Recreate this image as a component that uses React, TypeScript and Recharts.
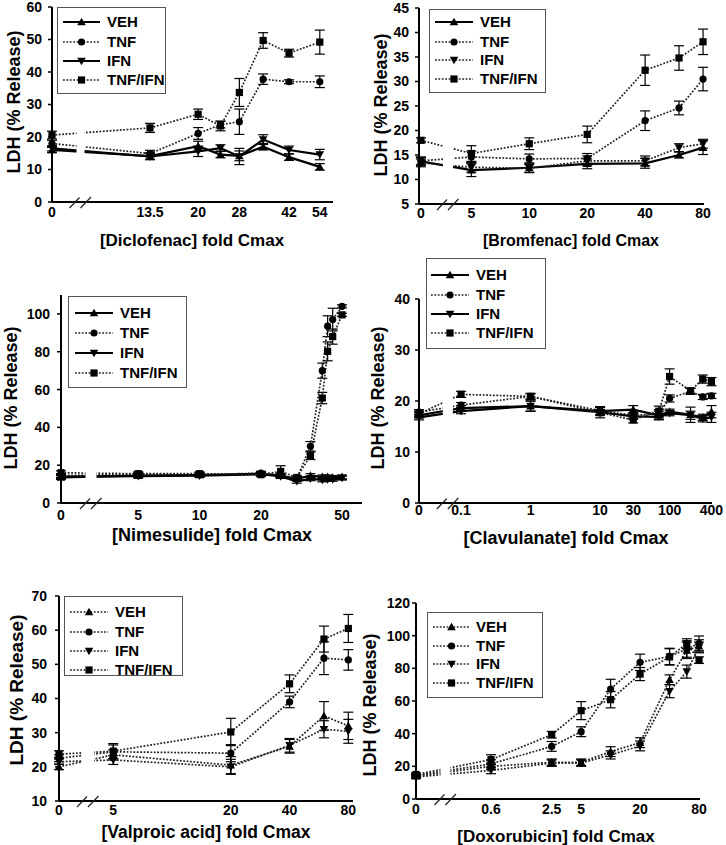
import React from 'react';
import { LineChart, Line, XAxis, YAxis, ErrorBar, Legend, Label } from 'recharts';

const FONT = '"Liberation Sans", Arial, Helvetica, sans-serif';

const SERIES_NAMES = ['VEH', 'TNF', 'IFN', 'TNF/IFN'];
const SERIES_KEYS = ['veh', 'tnf', 'ifn', 'ti'];
const SERIES_MARKERS = ['up', 'circle', 'down', 'square'];

// ---------- Diclofenac ----------
const dicloDoses = [0, 13.5, 20, 24, 28, 34, 42, 54];
const dicloTicks = [0, 13.5, 20, 28, 42, 54];
const dicloYTicks = [0, 10, 20, 30, 40, 50, 60];
const dicloVeh = [16.0, 14.1, 17.2, 14.6, 14.2, 17.0, 13.8, 10.8];
const dicloVehErr = [0.8, 1.0, 1.5, 1.0, 1.5, 1.0, 1.0, 1.0];
const dicloTnf = [18.0, 14.9, 21.1, 23.8, 24.7, 37.8, 37.0, 37.0];
const dicloTnfErr = [1.0, 1.0, 1.8, 1.0, 3.9, 1.6, 0.6, 1.8];
const dicloIfn = [16.5, 14.0, 15.6, 16.6, 14.0, 19.2, 16.0, 14.6];
const dicloIfnErr = [0.8, 1.0, 1.6, 1.0, 2.5, 1.5, 1.2, 1.6];
const dicloTi = [20.6, 22.8, 27.0, 23.4, 33.7, 49.7, 45.8, 49.2];
const dicloTiErr = [1.2, 1.4, 1.6, 1.5, 4.3, 2.4, 1.2, 3.7];

// ---------- Bromfenac ----------
const bromDoses = [0, 5, 10, 20, 40, 60, 80];
const bromTicks = [0, 5, 10, 20, 40, 80];
const bromYTicks = [5, 10, 15, 20, 25, 30, 35, 40, 45];
const bromVeh = [13.7, 11.9, 12.4, 13.2, 13.3, 15.0, 16.5];
const bromVehErr = [0.8, 1.3, 1.0, 1.0, 1.0, 0.6, 1.4];
const bromTnf = [13.8, 14.6, 14.2, 14.3, 22.0, 24.6, 30.5];
const bromTnfErr = [0.8, 1.2, 1.0, 1.0, 2.0, 1.4, 2.4];
const bromIfn = [13.4, 12.5, 12.3, 13.8, 13.8, 16.5, 17.3];
const bromIfnErr = [0.8, 1.0, 0.8, 1.0, 1.0, 0.8, 0.9];
const bromTi = [18.0, 15.3, 17.3, 19.2, 32.3, 34.8, 38.1];
const bromTiErr = [0.5, 1.6, 1.2, 1.7, 3.1, 2.5, 2.6];

// ---------- Nimesulide ----------
const nimeDoses = [0, 5, 10, 20, 25, 30, 35, 40, 42.5, 45, 50];
const nimeTicks = [0, 5, 10, 20, 50];
const nimeYTicks = [0, 20, 40, 60, 80, 100];
const nimeVeh = [13.5, 14.5, 14.8, 15.5, 14.5, 12.8, 14.5, 13.8, 13.8, 13.5, 13.8];
const nimeVehErr = [1, 1, 1, 1, 1, 1, 1, 1, 1, 1, 1];
const nimeTnf = [14.5, 15.2, 15.0, 15.8, 14.5, 13.0, 30.0, 70.0, 93.5, 97.0, 104.0];
const nimeTnfErr = [1, 1, 1, 1, 1, 1, 2.5, 4, 5.5, 6, 0.8];
const nimeIfn = [14.0, 14.2, 14.5, 15.2, 14.0, 11.5, 12.8, 12.2, 12.5, 12.5, 13.2];
const nimeIfnErr = [1, 1, 1, 1, 1, 1, 1, 1, 1, 1, 1];
const nimeTi = [16.0, 15.5, 15.5, 15.0, 16.7, 13.5, 25.0, 55.5, 80.2, 88.0, 99.5];
const nimeTiErr = [1, 1, 1, 1, 3, 1, 2, 3, 5, 4, 0.8];

// ---------- Clavulanate ----------
const clavDoses = [0, 0.1, 1, 10, 30, 70, 100, 200, 300, 400];
const clavTicks = [0, 0.1, 1, 10, 30, 100, 400];
const clavYTicks = [0, 10, 20, 30, 40];
const clavVeh = [17.2, 18.6, 19.0, 18.0, 18.3, 17.2, 17.9, 17.3, 16.8, 17.9];
const clavVehErr = [0.5, 0.5, 1.0, 0.8, 0.8, 0.8, 0.5, 1.5, 0.6, 1.2];
const clavTnf = [17.8, 19.2, 20.9, 18.1, 17.2, 17.5, 20.5, 21.9, 20.8, 21.0];
const clavTnfErr = [0.5, 0.5, 0.6, 0.8, 0.6, 0.8, 0.7, 0.6, 0.5, 0.5];
const clavIfn = [16.8, 18.0, 19.0, 17.8, 17.0, 16.9, 17.6, 17.2, 16.5, 16.8];
const clavIfnErr = [0.5, 0.5, 1.0, 0.5, 0.6, 0.6, 0.5, 0.8, 0.6, 1.0];
const clavTi = [17.5, 21.3, 20.9, 17.7, 16.3, 18.0, 24.8, 22.0, 24.3, 23.8];
const clavTiErr = [0.5, 0.6, 0.5, 1.0, 0.6, 1.0, 1.5, 0.5, 0.8, 0.8];

// ---------- Valproic acid ----------
const valpDoses = [0, 5, 20, 40, 60, 80];
const valpTicks = [0, 5, 20, 40, 80];
const valpYTicks = [10, 20, 30, 40, 50, 60, 70];
const valpVeh = [20.0, 23.5, 20.5, 26.0, 34.9, 32.0];
const valpVehErr = [0.8, 1.5, 2.5, 2.0, 4.2, 4.0];
const valpTnf = [22.5, 24.4, 24.0, 39.0, 51.8, 51.3];
const valpTnfErr = [1.0, 2.0, 2.5, 1.7, 4.8, 3.0];
const valpIfn = [21.5, 22.0, 20.0, 26.3, 31.0, 30.4];
const valpIfnErr = [0.8, 1.3, 2.2, 2.0, 2.5, 3.5];
const valpTi = [23.7, 24.6, 30.2, 44.3, 57.4, 60.5];
const valpTiErr = [1.0, 2.2, 4.0, 2.6, 3.8, 4.1];

// ---------- Doxorubicin ----------
const doxoDoses = [0, 0.6, 2.5, 5, 10, 20, 40, 60, 80];
const doxoTicks = [0, 0.6, 2.5, 5, 20, 80];
const doxoYTicks = [0, 20, 40, 60, 80, 100, 120];
const doxoVeh = [14.0, 20.0, 22.5, 22.5, 29.0, 34.5, 73.0, 91.0, 93.5];
const doxoVehErr = [1.0, 2.0, 2.0, 2.0, 3.0, 3.0, 3.0, 5.0, 4.0];
const doxoTnf = [14.5, 21.5, 32.2, 41.2, 67.3, 83.7, 87.3, 91.8, 95.3];
const doxoTnfErr = [1.0, 2.5, 3.0, 3.0, 6.0, 5.0, 5.0, 5.0, 4.5];
const doxoIfn = [13.5, 17.5, 22.0, 22.0, 27.0, 32.5, 66.0, 78.0, 93.0];
const doxoIfnErr = [1.0, 2.0, 2.0, 2.0, 2.5, 3.0, 4.0, 4.0, 3.0];
const doxoTi = [15.0, 24.1, 39.4, 54.1, 60.8, 76.5, 87.0, 95.1, 85.0];
const doxoTiErr = [1.0, 3.0, 2.0, 5.5, 5.0, 4.0, 5.0, 3.0, 2.0];

type LineStyle = 'solid' | 'dot';

type Panel = {
  xLabel: string;
  xLabelSize: number;
  yLabelSize: number;
  doses: number[];
  ticks: number[];
  yTicks: number[];
  values: number[][];
  errors: number[][];
  styles: LineStyle[];
  box: { left: number; top: number; width: number; height: number };
  plot: { x0: number; x1: number; y0: number; y1: number };
  xDomain: [number, number];
  zeroPos: number;
  breakPos: number;
  gapHalf: number;
  yDomain: [number, number];
  xTickMargin: number;
  yTickMargin: number;
  yLabel: { x: number; y: number };
  xLabelPos: { x: number; y: number };
  legend: { left: number; top: number; width: number; height: number; rows: number[]; line: [number, number]; text: number };
};

const panels: Panel[] = [
  {
    xLabel: '[Diclofenac] fold Cmax', xLabelSize: 17, yLabelSize: 18,
    doses: dicloDoses, ticks: dicloTicks, yTicks: dicloYTicks,
    values: [dicloVeh, dicloTnf, dicloIfn, dicloTi],
    errors: [dicloVehErr, dicloTnfErr, dicloIfnErr, dicloTiErr],
    styles: ['solid', 'dot', 'solid', 'dot'],
    box: { left: 0, top: 0, width: 363, height: 255 },
    plot: { x0: 52, x1: 333, y0: 7, y1: 202 },
    xDomain: [0.7828, 1.7792], zeroPos: 0.7828, breakPos: 0.8839, gapHalf: 4,
    yDomain: [0, 60], xTickMargin: 5, yTickMargin: 6,
    yLabel: { x: 14, y: 102 }, xLabelPos: { x: 192, y: 240 },
    legend: { left: 57, top: 7, width: 109, height: 87, rows: [15, 35, 54, 73], line: [6, 43], text: 50 },
  },
  {
    xLabel: '[Bromfenac] fold Cmax', xLabelSize: 16, yLabelSize: 18,
    doses: bromDoses, ticks: bromTicks, yTicks: bromYTicks,
    values: [bromVeh, bromTnf, bromIfn, bromTi],
    errors: [bromVehErr, bromTnfErr, bromIfnErr, bromTiErr],
    styles: ['solid', 'dot', 'dot', 'dot'],
    box: { left: 363, top: 0, width: 363, height: 255 },
    plot: { x0: 419, x1: 704, y0: 8, y1: 204 },
    xDomain: [0.427, 1.908], zeroPos: 0.437, breakPos: 0.5777, gapHalf: 5,
    yDomain: [5, 45], xTickMargin: 4, yTickMargin: 6,
    yLabel: { x: 381, y: 105 }, xLabelPos: { x: 571, y: 240 },
    legend: { left: 429, top: 9, width: 117, height: 84, rows: [13, 33, 51, 70], line: [6, 44], text: 51 },
  },
  {
    xLabel: '[Nimesulide] fold Cmax', xLabelSize: 18, yLabelSize: 18,
    doses: nimeDoses, ticks: nimeTicks, yTicks: nimeYTicks,
    values: [nimeVeh, nimeTnf, nimeIfn, nimeTi],
    errors: [nimeVehErr, nimeTnfErr, nimeIfnErr, nimeTiErr],
    styles: ['solid', 'dot', 'solid', 'dot'],
    box: { left: 0, top: 280, width: 363, height: 270 },
    plot: { x0: 61, x1: 362, y0: 295, y1: 503 },
    xDomain: [0.32, 1.797], zeroPos: 0.32, breakPos: 0.4672, gapHalf: 5.5,
    yDomain: [0, 110], xTickMargin: 7, yTickMargin: 7,
    yLabel: { x: 11, y: 398 }, xLabelPos: { x: 212, y: 535 },
    legend: { left: 68, top: 296, width: 119, height: 92, rows: [17, 37, 57, 77], line: [7, 45], text: 52 },
  },
  {
    xLabel: '[Clavulanate] fold Cmax', xLabelSize: 18, yLabelSize: 18,
    doses: clavDoses, ticks: clavTicks, yTicks: clavYTicks,
    values: [clavVeh, clavTnf, clavIfn, clavTi],
    errors: [clavVehErr, clavTnfErr, clavIfnErr, clavTiErr],
    styles: ['solid', 'dot', 'solid', 'dot'],
    box: { left: 363, top: 250, width: 363, height: 300 },
    plot: { x0: 419, x1: 712, y0: 299, y1: 503 },
    xDomain: [-1.605, 2.61], zeroPos: -1.605, breakPos: -1.19, gapHalf: 5,
    yDomain: [0, 40], xTickMargin: 2, yTickMargin: 5,
    yLabel: { x: 378, y: 398 }, xLabelPos: { x: 566, y: 538 },
    legend: { left: 426, top: 258, width: 120, height: 91, rows: [17, 37, 56, 75], line: [5, 43], text: 50 },
  },
  {
    xLabel: '[Valproic acid] fold Cmax', xLabelSize: 17.5, yLabelSize: 19,
    doses: valpDoses, ticks: valpTicks, yTicks: valpYTicks,
    values: [valpVeh, valpTnf, valpIfn, valpTi],
    errors: [valpVehErr, valpTnfErr, valpIfnErr, valpTiErr],
    styles: ['dot', 'dot', 'dot', 'dot'],
    box: { left: 0, top: 570, width: 363, height: 275 },
    plot: { x0: 59, x1: 353, y0: 596, y1: 801 },
    xDomain: [0.421, 1.927], zeroPos: 0.421, breakPos: 0.5696, gapHalf: 6,
    yDomain: [10, 70], xTickMargin: 4, yTickMargin: 8,
    yLabel: { x: 16, y: 690 }, xLabelPos: { x: 206, y: 832 },
    legend: { left: 64, top: 596, width: 119, height: 80, rows: [16, 36, 55, 74], line: [6, 44], text: 51 },
  },
  {
    xLabel: '[Doxorubicin] fold Cmax', xLabelSize: 17, yLabelSize: 18,
    doses: doxoDoses, ticks: doxoTicks, yTicks: doxoYTicks,
    values: [doxoVeh, doxoTnf, doxoIfn, doxoTi],
    errors: [doxoVehErr, doxoTnfErr, doxoIfnErr, doxoTiErr],
    styles: ['dot', 'dot', 'dot', 'dot'],
    box: { left: 352, top: 570, width: 374, height: 275 },
    plot: { x0: 416, x1: 700, y0: 603, y1: 799 },
    xDomain: [-0.988, 1.913], zeroPos: -0.988, breakPos: -0.687, gapHalf: 5,
    yDomain: [0, 120], xTickMargin: 5, yTickMargin: 2,
    yLabel: { x: 370, y: 705 }, xLabelPos: { x: 556, y: 836 },
    legend: { left: 427, top: 612, width: 116, height: 86, rows: [15, 34, 52, 71], line: [6, 43], text: 49 },
  },
];

function lineStroke(style: LineStyle) {
  return style === 'solid'
    ? { stroke: '#000', strokeWidth: 2.2, strokeDasharray: undefined as string | undefined }
    : { stroke: '#222', strokeWidth: 1.7, strokeDasharray: '1.8 1.6' };
}

function Marker({ kind, cx, cy }: { kind: string; cx: number; cy: number }) {
  if (cx == null || cy == null || Number.isNaN(cx) || Number.isNaN(cy)) return null;
  if (kind === 'up') {
    return <polygon points={`${cx},${cy - 4.3} ${cx + 4.3},${cy + 3.3} ${cx - 4.3},${cy + 3.3}`} fill="#000" />;
  }
  if (kind === 'down') {
    return <polygon points={`${cx},${cy + 4.3} ${cx + 4.3},${cy - 3.3} ${cx - 4.3},${cy - 3.3}`} fill="#000" />;
  }
  if (kind === 'circle') {
    return <circle cx={cx} cy={cy} r={3.6} fill="#000" />;
  }
  return <rect x={cx - 3.6} y={cy - 3.6} width={7.2} height={7.2} fill="#000" />;
}

// Axis-break decoration: white gap through the series lines plus the "//" marks on the axis.
function BreakMark({ viewBox, p }: { viewBox: any; p: Panel }) {
  if (!viewBox) return null;
  const [d0, d1] = p.xDomain;
  const x = viewBox.x + ((p.breakPos - d0) / (d1 - d0)) * viewBox.width;
  const bottom = viewBox.y;
  const top = p.plot.y0 - p.box.top;
  return (
    <g>
      <rect x={x - p.gapHalf} y={top} width={p.gapHalf * 2} height={bottom - top - 1.5} fill="#fff" />
      <line x1={x - 11} y1={bottom + 6} x2={x - 1} y2={bottom - 4.5} stroke="#222" strokeWidth={1.2} />
      <line x1={x} y1={bottom + 6} x2={x + 10.5} y2={bottom - 5} stroke="#222" strokeWidth={1.2} />
    </g>
  );
}

function LegendBox({ p }: { p: Panel }) {
  const L = p.legend;
  return (
    <div
      style={{
        position: 'relative',
        width: L.width,
        height: L.height,
        border: '1px solid #555',
        background: '#fff',
        boxSizing: 'border-box',
      }}
    >
      {SERIES_NAMES.map((name, i) => {
        const cy = L.rows[i] - 1;
        const st = lineStroke(p.styles[i]);
        return (
          <React.Fragment key={name}>
            <svg
              style={{ position: 'absolute', left: -1, top: cy - 10, overflow: 'visible' }}
              width={L.line[1] + 6}
              height={20}
            >
              <line
                x1={L.line[0]}
                x2={L.line[1]}
                y1={10}
                y2={10}
                stroke={st.stroke}
                strokeWidth={st.strokeWidth}
                strokeDasharray={st.strokeDasharray}
              />
              <Marker kind={SERIES_MARKERS[i]} cx={(L.line[0] + L.line[1]) / 2} cy={10} />
            </svg>
            <span
              style={{
                position: 'absolute',
                left: L.text - 1,
                top: cy - 10,
                height: 20,
                lineHeight: '20px',
                fontFamily: FONT,
                fontSize: 15,
                fontWeight: 'bold',
                color: '#000',
                whiteSpace: 'nowrap',
              }}
            >
              {name}
            </span>
          </React.Fragment>
        );
      })}
    </div>
  );
}

const Y_W = 40;
const X_H = 30;

function PanelChart({ p }: { p: Panel }) {
  const rows = p.doses.map((d, i) => {
    const r: any = { x: d === 0 ? p.zeroPos : Math.log10(d), dose: d };
    SERIES_KEYS.forEach((k, s) => {
      r[k] = p.values[s][i];
      r[k + 'Err'] = p.errors[s][i];
    });
    return r;
  });
  const tickPos = p.ticks.map((d) => (d === 0 ? p.zeroPos : Math.log10(d)));
  const fmt = (v: number) => {
    const idx = tickPos.findIndex((t) => Math.abs(t - v) < 1e-6);
    return idx >= 0 ? String(p.ticks[idx]) : '';
  };
  const { box, plot } = p;
  const margin = {
    left: plot.x0 - box.left - Y_W,
    right: box.left + box.width - plot.x1,
    top: plot.y0 - box.top,
    bottom: box.top + box.height - plot.y1 - X_H,
  };
  const tickStyle = { fill: '#000', fontSize: 14, fontWeight: 700, fontFamily: FONT };
  const xl = p.xLabelPos.x - box.left;
  const yl = p.xLabelPos.y - box.top;
  const yx = p.yLabel.x - box.left;
  const yy = p.yLabel.y - box.top;
  return (
    <div style={{ position: 'absolute', left: box.left, top: box.top }}>
      <LineChart width={box.width} height={box.height} data={rows} margin={margin}>
        {SERIES_KEYS.map((k, s) => {
          const st = lineStroke(p.styles[s]);
          return (
            <Line
              key={k}
              dataKey={k}
              name={SERIES_NAMES[s]}
              type="linear"
              isAnimationActive={false}
              stroke={st.stroke}
              strokeWidth={st.strokeWidth}
              strokeDasharray={st.strokeDasharray}
              activeDot={false}
              dot={(dp: any) => (
                <Marker key={`${k}-${dp.index}`} kind={SERIES_MARKERS[s]} cx={dp.cx} cy={dp.cy} />
              )}
            >
              <ErrorBar dataKey={k + 'Err'} width={5} stroke="#000" strokeWidth={1.2} direction="y" />
            </Line>
          );
        })}
        <XAxis
          type="number"
          dataKey="x"
          domain={p.xDomain}
          ticks={tickPos}
          tickFormatter={fmt}
          interval={0}
          height={X_H}
          tickLine={false}
          tickSize={0}
          tickMargin={p.xTickMargin}
          axisLine={{ stroke: '#000', strokeWidth: 2 }}
          tick={tickStyle}
        >
          <Label value="break" content={(lp: any) => <BreakMark viewBox={lp.viewBox} p={p} />} />
          <Label
            value={p.xLabel}
            content={() => (
              <text
                x={xl}
                y={yl}
                textAnchor="middle"
                dominantBaseline="central"
                fontSize={p.xLabelSize}
                fontWeight="bold"
                fontFamily={FONT}
                fill="#000"
              >
                {p.xLabel}
              </text>
            )}
          />
        </XAxis>
        <YAxis
          type="number"
          width={Y_W}
          domain={p.yDomain}
          ticks={p.yTicks}
          interval={0}
          tickSize={4}
          tickMargin={p.yTickMargin}
          tickLine={{ stroke: '#000', strokeWidth: 1.5 }}
          axisLine={{ stroke: '#000', strokeWidth: 2 }}
          tick={tickStyle}
        >
          <Label
            value="LDH (% Release)"
            content={() => (
              <text
                x={yx}
                y={yy}
                transform={`rotate(-90 ${yx} ${yy})`}
                textAnchor="middle"
                dominantBaseline="central"
                fontSize={p.yLabelSize}
                fontWeight="bold"
                fontFamily={FONT}
                fill="#000"
              >
                LDH (% Release)
              </text>
            )}
          />
        </YAxis>
        <Legend
          layout="vertical"
          align="center"
          verticalAlign="middle"
          wrapperStyle={{
            left: p.legend.left - box.left,
            top: p.legend.top - box.top,
            width: p.legend.width,
            height: p.legend.height,
          }}
          content={() => <LegendBox p={p} />}
        />
      </LineChart>
    </div>
  );
}

export default function App() {
  return (
    <div style={{ position: 'absolute', left: 0, top: 0, width: 726, height: 845, background: '#fff' }}>
      {panels.map((p, i) => (
        <PanelChart key={i} p={p} />
      ))}
    </div>
  );
}
